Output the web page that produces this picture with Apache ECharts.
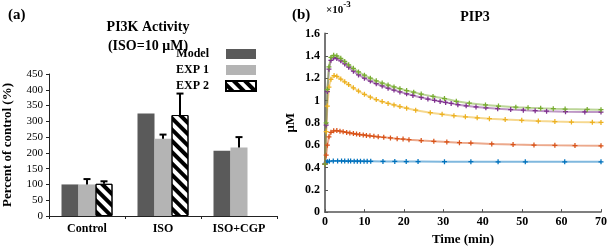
<!DOCTYPE html>
<html>
<head>
<meta charset="utf-8">
<script src="https://cdn.jsdelivr.net/npm/echarts@6/dist/echarts.min.js"></script>
<style>
  html, body { margin: 0; padding: 0; background: #fff; }
  #chart { width: 610px; height: 251px; }
</style>
</head>
<body>
<div id="chart"></div>
<script>
// ---- panel (a): PI3K activity, percent of control ----
const categories = ['Control', 'ISO', 'ISO+CGP'];
const barNames = ['Model', 'EXP 1', 'EXP 2'];
const modelVals = [100, 325, 207];
const exp1Vals = [100, 245, 217];
const exp1Err = [17, 13, 33];
const exp2Vals = [102, 320, null];
const exp2Err = [8, 68, null];

// ---- panel (b): PIP3 time courses, [time (min), uM x 1e-3] ----
const bluePts = [[0,0.43],[0.3,0.445],[0.6,0.452],[1.1,0.456],[2.1,0.458],[3.2,0.458],[4.2,0.458],[5,0.457],[5.9,0.457],[6.5,0.457],[7.4,0.456],[8.2,0.456],[9,0.456],[9.9,0.455],[10.7,0.455],[11.6,0.455],[14.7,0.454],[17.7,0.454],[20.6,0.453],[23.6,0.453],[30.3,0.452],[37,0.452],[43.9,0.451],[50.8,0.451],[60.8,0.45],[70,0.45]];
const orangePts = [[0,0.43],[0.3,0.51],[0.6,0.6],[1,0.675],[1.5,0.715],[2.2,0.728],[3,0.73],[3.8,0.725],[4.6,0.72],[5.5,0.714],[6.3,0.709],[7.2,0.704],[8,0.699],[8.8,0.695],[9.7,0.691],[10.5,0.687],[11.4,0.683],[12.4,0.679],[13.5,0.675],[14.9,0.67],[16.6,0.664],[18.3,0.658],[19.8,0.654],[21.3,0.649],[24.4,0.641],[27.6,0.634],[30.9,0.628],[34.1,0.622],[37,0.618],[42.3,0.611],[47.7,0.605],[53,0.601],[58.3,0.598],[63.4,0.596],[70,0.594]];
const yellowPts = [[0,0.43],[0.3,0.72],[0.6,0.95],[1,1.12],[1.5,1.19],[2.3,1.223],[3,1.216],[4,1.192],[5,1.167],[6,1.142],[7.2,1.113],[8.5,1.084],[10,1.055],[11.5,1.03],[13,1.008],[14.5,0.99],[16,0.974],[17.5,0.96],[19,0.946],[20.7,0.931],[23,0.913],[26.7,0.891],[29.7,0.876],[32.7,0.864],[35.6,0.854],[38.6,0.845],[41.7,0.837],[45.7,0.829],[49.9,0.822],[54.1,0.816],[58.3,0.811],[62.5,0.807],[67.8,0.804],[70,0.803]];
const purplePts = [[0,0.43],[0.3,0.78],[0.6,1.08],[1,1.28],[1.5,1.36],[2.2,1.383],[3,1.376],[4,1.355],[5,1.327],[6,1.298],[7.2,1.262],[8.5,1.229],[10,1.2],[11.5,1.174],[13,1.15],[14.5,1.13],[16,1.11],[17.5,1.093],[19,1.077],[20.7,1.06],[22.3,1.045],[24.4,1.027],[26.1,1.013],[27.8,1.001],[29.2,0.991],[30.6,0.982],[32,0.974],[33.7,0.962],[35.8,0.952],[38.3,0.942],[40.8,0.934],[43.8,0.926],[47.1,0.919],[50.3,0.913],[53.3,0.908],[56.2,0.904],[61,0.9],[65.9,0.897],[70,0.896]];
const greenPts = [[0,0.43],[0.3,0.8],[0.6,1.1],[1,1.3],[1.5,1.385],[2.2,1.405],[3,1.4],[4,1.378],[5,1.35],[6,1.32],[7.2,1.288],[8.5,1.256],[10,1.226],[11.5,1.2],[13,1.176],[14.5,1.156],[16,1.138],[17.5,1.121],[19,1.106],[20.7,1.089],[22.5,1.074],[24.4,1.057],[27.4,1.036],[30.3,1.017],[33.3,0.993],[36.6,0.976],[40.7,0.96],[44,0.95],[48.4,0.94],[51.5,0.935],[54.7,0.93],[57.9,0.926],[60.9,0.923],[66.5,0.92],[70,0.918]];

const SERIF = 'Liberation Serif';
const BAR_W = 17;
const PLUS = 'path://M3,0H5V3H8V5H5V8H3V5H0V3H3Z';
// legend swatch: 30x10 box with 12px of blank space on its left
const SWATCH = 'path://M0,0M12,0H42V10H12Z';

const chart = echarts.init(document.getElementById('chart'), null, { renderer: 'canvas' });

// error bar rows: [category index, bar top, bar top + error, slot]
const errRows = [];
exp1Vals.forEach((v, i) => { if (v != null && exp1Err[i] != null) errRows.push([i, v, v + exp1Err[i], 1]); });
exp2Vals.forEach((v, i) => { if (v != null && exp2Err[i] != null) errRows.push([i, v, v + exp2Err[i], 2]); });

function renderErr(params, api) {
  const p0 = api.coord([api.value(0), api.value(1)]);
  const p1 = api.coord([api.value(0), api.value(2)]);
  const x = p0[0] + (api.value(3) - 1) * BAR_W;
  const st = { stroke: '#000', lineWidth: 2 };
  return {
    type: 'group',
    children: [
      { type: 'line', shape: { x1: x, y1: p0[1], x2: x, y2: p1[1] }, style: st },
      { type: 'line', shape: { x1: x - 3.5, y1: p1[1], x2: x + 3.5, y2: p1[1] }, style: st }
    ]
  };
}

const lineDefs = [
  { pts: bluePts, color: '#0072BD' },
  { pts: orangePts, color: '#D95319' },
  { pts: yellowPts, color: '#EDB120' },
  { pts: purplePts, color: '#7E2F8E' },
  { pts: greenPts, color: '#77AC30' }
];

const titleFont = { fontFamily: SERIF, fontSize: 14, fontWeight: 'bold', color: '#000' };

const option = {
  animation: false,
  title: [
    { text: '(a)', left: 3, top: 3, textStyle: { fontFamily: SERIF, fontSize: 15, fontWeight: 'bold', color: '#000' } },
    { text: 'PI3K Activity', left: 143, top: 15, textAlign: 'center', textStyle: titleFont },
    { text: '(ISO=10 μM)', left: 143, top: 34, textAlign: 'center', textStyle: titleFont },
    { text: '(b)', left: 287, top: 3, textStyle: { fontFamily: SERIF, fontSize: 15, fontWeight: 'bold', color: '#000' } },
    { text: 'PIP3', left: 470, top: 5, textAlign: 'center', textStyle: titleFont },
    {
      text: '{a|×10}{b|-3}', left: 326, top: 0, padding: 0,
      textStyle: {
        rich: {
          a: { fontFamily: SERIF, fontSize: 11, color: '#000', lineHeight: 14, padding: [6, 0, 0, 0] },
          b: { fontFamily: SERIF, fontSize: 9, color: '#000', lineHeight: 14, verticalAlign: 'top' }
        }
      }
    }
  ],
  legend: {
    data: barNames,
    orient: 'vertical',
    align: 'right',
    right: 348,
    top: 43,
    icon: SWATCH,
    itemWidth: 42,
    itemHeight: 10,
    itemGap: 4,
    textStyle: { fontFamily: SERIF, fontSize: 12, fontWeight: 'bold', color: '#000' }
  },
  grid: [
    { left: 48, top: 74, width: 229, height: 142, containLabel: false },
    { left: 325, top: 33.5, width: 278, height: 184, containLabel: false }
  ],
  xAxis: [
    {
      type: 'category', gridIndex: 0, data: categories,
      axisLine: { lineStyle: { color: '#222', width: 1 } },
      axisTick: { show: true, length: 3, lineStyle: { color: '#222' } },
      axisLabel: { fontFamily: SERIF, fontSize: 12, fontWeight: 'bold', color: '#000', margin: 7 }
    },
    {
      type: 'value', gridIndex: 1, min: 0, max: 70, interval: 10,
      name: 'Time (min)', nameLocation: 'middle', nameGap: 19,
      nameTextStyle: { fontFamily: SERIF, fontSize: 13, fontWeight: 'bold', color: '#000' },
      splitLine: { show: false },
      axisLine: { lineStyle: { color: '#555', width: 1.5 } },
      axisTick: { inside: true, length: 3, lineStyle: { color: '#555' } },
      axisLabel: { fontFamily: SERIF, fontSize: 12, fontWeight: 'bold', color: '#000', margin: 4 }
    }
  ],
  yAxis: [
    {
      type: 'value', gridIndex: 0, min: 0, max: 450, interval: 50,
      name: 'Percent of control (%)', nameLocation: 'middle', nameGap: 35,
      nameTextStyle: { fontFamily: SERIF, fontSize: 13, fontWeight: 'bold', color: '#000' },
      splitLine: { show: false },
      axisLine: { show: true, lineStyle: { color: '#222', width: 1 } },
      axisTick: { show: true, length: 3, lineStyle: { color: '#222' } },
      axisLabel: { fontFamily: SERIF, fontSize: 11, color: '#000', margin: 6 }
    },
    {
      type: 'value', gridIndex: 1, min: 0, max: 1.6, interval: 0.2,
      name: 'μM', nameLocation: 'middle', nameGap: 28,
      nameTextStyle: { fontFamily: SERIF, fontSize: 13, fontWeight: 'bold', color: '#000' },
      splitLine: { show: false },
      axisLine: { show: true, lineStyle: { color: '#777', width: 2 } },
      axisTick: { show: true, inside: true, length: 3, lineStyle: { color: '#555' } },
      axisLabel: { fontFamily: SERIF, fontSize: 12, fontWeight: 'bold', color: '#000', margin: 5 }
    }
  ],
  series: [
    {
      name: 'Model', type: 'bar', xAxisIndex: 0, yAxisIndex: 0, data: modelVals,
      barWidth: BAR_W, barGap: '0%', itemStyle: { color: '#5a5a5a' }
    },
    {
      name: 'EXP 1', type: 'bar', xAxisIndex: 0, yAxisIndex: 0, data: exp1Vals,
      barWidth: BAR_W, barGap: '0%', itemStyle: { color: '#b4b4b4' }
    },
    {
      name: 'EXP 2', type: 'bar', xAxisIndex: 0, yAxisIndex: 0, data: exp2Vals,
      barWidth: BAR_W, barGap: '0%',
      itemStyle: {
        color: '#ffffff', borderColor: '#000', borderWidth: 1,
        decal: { symbol: 'rect', symbolSize: 1, color: '#000', dashArrayX: [1, 0], dashArrayY: [3.5, 3.5], rotation: Math.PI / 4 }
      }
    },
    {
      type: 'custom', xAxisIndex: 0, yAxisIndex: 0, data: errRows,
      renderItem: renderErr, z: 5, silent: true
    }
  ].concat(lineDefs.map(d => ({
    type: 'line', xAxisIndex: 1, yAxisIndex: 1, data: d.pts,
    symbol: PLUS, symbolSize: 5, showAllSymbol: true,
    lineStyle: { color: d.color, width: 2, opacity: 0.5 },
    itemStyle: { color: d.color },
    z: 3
  })))
};

chart.setOption(option);
</script>
</body>
</html>
